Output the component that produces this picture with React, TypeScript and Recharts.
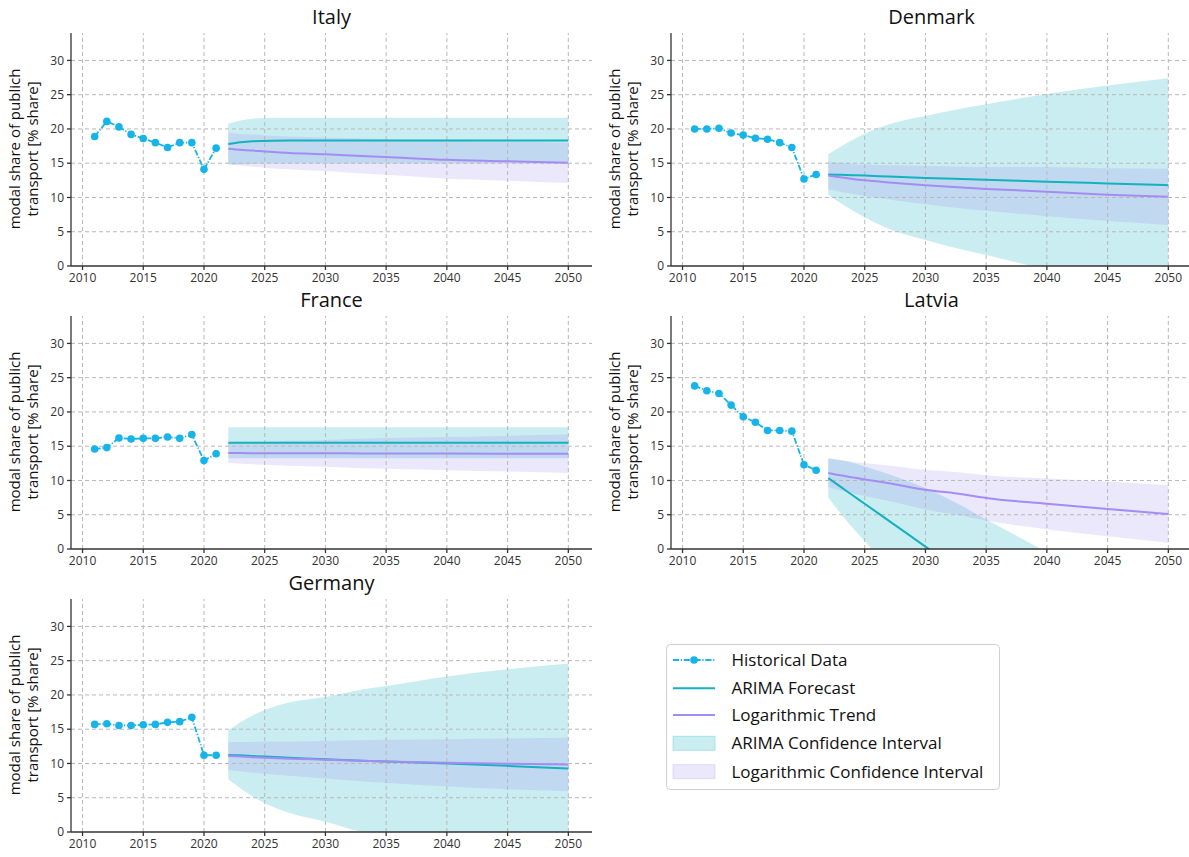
import React from "react";
import { Area, ComposedChart, Line, ReferenceLine, XAxis, YAxis } from "recharts";

const HIST_YEARS = [2011, 2012, 2013, 2014, 2015, 2016, 2017, 2018, 2019, 2020, 2021];
const FORECAST_YEARS = [2022, 2023, 2024, 2025, 2027, 2030, 2033, 2035, 2040, 2045, 2050];
const X_TICKS = [2010, 2015, 2020, 2025, 2030, 2035, 2040, 2045, 2050];
const Y_TICKS = [0, 5, 10, 15, 20, 25, 30];

const ITALY_HIST = [18.9, 21.1, 20.3, 19.2, 18.6, 18.0, 17.3, 18.0, 18.0, 14.1, 17.2];
const ITALY_ARIMA = [17.8, 18.05, 18.2, 18.25, 18.3, 18.3, 18.3, 18.3, 18.3, 18.3, 18.3];
const ITALY_ARIMA_LO = [14.8, 14.85, 14.9, 14.95, 14.95, 14.95, 14.95, 14.95, 14.95, 14.95, 14.95];
const ITALY_ARIMA_HI = [20.8, 21.25, 21.5, 21.6, 21.65, 21.65, 21.65, 21.65, 21.65, 21.65, 21.65];
const ITALY_LOG = [17.1, 16.95, 16.85, 16.7, 16.5, 16.3, 16.05, 15.9, 15.5, 15.3, 15.05];
const ITALY_LOG_LO = [14.8, 14.65, 14.5, 14.35, 14.1, 13.85, 13.5, 13.3, 12.75, 12.45, 12.1];
const ITALY_LOG_HI = [19.4, 19.25, 19.2, 19.05, 18.9, 18.75, 18.6, 18.5, 18.25, 18.15, 18.0];

const DENMARK_HIST = [20.0, 20.0, 20.1, 19.4, 19.1, 18.65, 18.5, 18.0, 17.3, 12.7, 13.35];
const DENMARK_ARIMA = [13.35, 13.3, 13.25, 13.2, 13.05, 12.85, 12.7, 12.6, 12.3, 12.05, 11.8];
const DENMARK_ARIMA_LO = [10.4, 9.2, 8.1, 7.1, 5.4, 3.8, 2.4, 1.6, -0.5, -2.25, -3.8];
const DENMARK_ARIMA_HI = [16.3, 17.4, 18.4, 19.3, 20.7, 21.9, 23.0, 23.6, 25.1, 26.35, 27.4];
const DENMARK_LOG = [13.2, 12.95, 12.7, 12.5, 12.2, 11.8, 11.45, 11.25, 10.85, 10.4, 10.1];
const DENMARK_LOG_LO = [11.2, 10.85, 10.5, 10.2, 9.7, 9.0, 8.4, 8.05, 7.25, 6.55, 6.0];
const DENMARK_LOG_HI = [15.2, 15.05, 14.9, 14.8, 14.7, 14.6, 14.5, 14.45, 14.45, 14.25, 14.2];

const FRANCE_HIST = [14.6, 14.8, 16.2, 16.05, 16.15, 16.15, 16.35, 16.15, 16.7, 12.9, 13.9];
const FRANCE_ARIMA = [15.5, 15.5, 15.5, 15.5, 15.5, 15.5, 15.5, 15.5, 15.5, 15.5, 15.5];
const FRANCE_ARIMA_LO = [13.25, 13.25, 13.25, 13.25, 13.25, 13.25, 13.25, 13.25, 13.25, 13.25, 13.25];
const FRANCE_ARIMA_HI = [17.75, 17.75, 17.75, 17.75, 17.75, 17.75, 17.75, 17.75, 17.75, 17.75, 17.75];
const FRANCE_LOG = [14.0, 14.0, 13.99, 13.98, 13.97, 13.96, 13.95, 13.94, 13.92, 13.91, 13.9];
const FRANCE_LOG_LO = [12.55, 12.45, 12.35, 12.3, 12.15, 12.0, 11.8, 11.7, 11.5, 11.3, 11.1];
const FRANCE_LOG_HI = [15.45, 15.55, 15.63, 15.66, 15.79, 15.92, 16.1, 16.18, 16.34, 16.52, 16.7];

const LATVIA_HIST = [23.8, 23.1, 22.7, 21.0, 19.3, 18.5, 17.3, 17.3, 17.2, 12.3, 11.5];
const LATVIA_ARIMA = [10.35, 9.1, 7.85, 6.6, 4.1, 0.35, -3.4, -5.9, -12.15, -18.4, -24.65];
const LATVIA_ARIMA_LO = [7.5, 5.2, 3.1, 1.15, -2.7, -8.2, -13.1, -16.1, -23.8, -30.6, -37.3];
const LATVIA_ARIMA_HI = [13.2, 13.0, 12.6, 12.05, 10.9, 8.9, 6.3, 4.3, -0.5, -6.2, -12.0];
const LATVIA_LOG = [11.1, 10.75, 10.45, 10.15, 9.6, 8.65, 8.0, 7.45, 6.6, 5.85, 5.1];
const LATVIA_LOG_LO = [9.0, 8.55, 8.15, 7.75, 7.0, 5.75, 4.85, 4.15, 2.9, 1.85, 0.9];
const LATVIA_LOG_HI = [13.2, 12.95, 12.75, 12.55, 12.2, 11.55, 11.15, 10.75, 10.3, 9.85, 9.3];

const GERMANY_HIST = [15.7, 15.8, 15.55, 15.55, 15.65, 15.7, 16.0, 16.1, 16.75, 11.2, 11.2];
const GERMANY_ARIMA = [11.25, 11.2, 11.1, 11.0, 10.85, 10.6, 10.4, 10.3, 10.0, 9.65, 9.25];
const GERMANY_ARIMA_LO = [7.7, 6.4, 5.2, 4.2, 2.8, 1.5, 0.0, -0.7, -2.7, -4.45, -6.1];
const GERMANY_ARIMA_HI = [14.8, 16.0, 17.0, 17.8, 18.9, 19.7, 20.8, 21.3, 22.7, 23.75, 24.6];
const GERMANY_LOG = [11.1, 11.0, 10.9, 10.85, 10.7, 10.55, 10.4, 10.3, 10.1, 9.95, 9.85];
const GERMANY_LOG_LO = [9.05, 8.85, 8.65, 8.5, 8.2, 7.8, 7.4, 7.15, 6.65, 6.25, 5.95];
const GERMANY_LOG_HI = [13.15, 13.15, 13.15, 13.2, 13.2, 13.3, 13.4, 13.45, 13.55, 13.65, 13.75];

const HIST_COLOR = "#16b4e9";
const ARIMA_COLOR = "#14b1bf";
const LOG_COLOR = "#a58cf4";
const ARIMA_FILL = "#40c0cc";
const LOG_FILL = "#9f8cf0";
const GRID_COLOR = "#b8b8b8";
const DASH_DOT = "6 1.8 1.2 1.8";

type Country = {
  name: string;
  hist: number[];
  arima: number[];
  arimaLo: number[];
  arimaHi: number[];
  log: number[];
  logLo: number[];
  logHi: number[];
};

const COUNTRIES: { country: Country; left: number; top: number }[] = [
  {
    country: { name: "Italy", hist: ITALY_HIST, arima: ITALY_ARIMA, arimaLo: ITALY_ARIMA_LO, arimaHi: ITALY_ARIMA_HI, log: ITALY_LOG, logLo: ITALY_LOG_LO, logHi: ITALY_LOG_HI },
    left: 0,
    top: 0,
  },
  {
    country: { name: "Denmark", hist: DENMARK_HIST, arima: DENMARK_ARIMA, arimaLo: DENMARK_ARIMA_LO, arimaHi: DENMARK_ARIMA_HI, log: DENMARK_LOG, logLo: DENMARK_LOG_LO, logHi: DENMARK_LOG_HI },
    left: 600,
    top: 0,
  },
  {
    country: { name: "France", hist: FRANCE_HIST, arima: FRANCE_ARIMA, arimaLo: FRANCE_ARIMA_LO, arimaHi: FRANCE_ARIMA_HI, log: FRANCE_LOG, logLo: FRANCE_LOG_LO, logHi: FRANCE_LOG_HI },
    left: 0,
    top: 283,
  },
  {
    country: { name: "Latvia", hist: LATVIA_HIST, arima: LATVIA_ARIMA, arimaLo: LATVIA_ARIMA_LO, arimaHi: LATVIA_ARIMA_HI, log: LATVIA_LOG, logLo: LATVIA_LOG_LO, logHi: LATVIA_LOG_HI },
    left: 600,
    top: 283,
  },
  {
    country: { name: "Germany", hist: GERMANY_HIST, arima: GERMANY_ARIMA, arimaLo: GERMANY_ARIMA_LO, arimaHi: GERMANY_ARIMA_HI, log: GERMANY_LOG, logLo: GERMANY_LOG_LO, logHi: GERMANY_LOG_HI },
    left: 0,
    top: 566,
  },
];

function buildRows(c: Country) {
  const rows: Record<string, unknown>[] = HIST_YEARS.map((year, i) => ({ year, hist: c.hist[i] }));
  FORECAST_YEARS.forEach((year, i) => {
    rows.push({
      year,
      arima: c.arima[i],
      arimaBand: [c.arimaLo[i], c.arimaHi[i]],
      log: c.log[i],
      logBand: [c.logLo[i], c.logHi[i]],
    });
  });
  return rows;
}

function Panel({ country, left, top }: { country: Country; left: number; top: number }) {
  const rows = buildRows(country);
  return (
    <div style={{ position: "absolute", left, top, width: 600, height: 296 }}>
      <ComposedChart width={600} height={296} data={rows} margin={{ top: 33, right: 8, bottom: 0, left: 21 }}>
        <XAxis
          type="number"
          dataKey="year"
          domain={[2009.05, 2051.95]}
          ticks={X_TICKS}
          allowDataOverflow
          height={30}
          tickSize={4}
          tickMargin={3}
          tick={{ fontSize: 12, fill: "#333" }}
          stroke="#333"
          strokeWidth={1.3}
        />
        <YAxis
          type="number"
          domain={[0, 34]}
          ticks={Y_TICKS}
          allowDataOverflow
          width={50}
          tickSize={4}
          tickMargin={3}
          tick={{ fontSize: 12, fill: "#333" }}
          stroke="#333"
          strokeWidth={1.3}
        />
        {X_TICKS.map((x) => (
          <ReferenceLine key={`gx${x}`} x={x} stroke={GRID_COLOR} strokeDasharray="4 3" />
        ))}
        {Y_TICKS.filter((y) => y > 0).map((y) => (
          <ReferenceLine key={`gy${y}`} y={y} stroke={GRID_COLOR} strokeDasharray="4 3" />
        ))}
        <Area type="monotone" dataKey="arimaBand" stroke="none" fill={ARIMA_FILL} fillOpacity={0.28} isAnimationActive={false} />
        <Area type="monotone" dataKey="logBand" stroke="none" fill={LOG_FILL} fillOpacity={0.2} isAnimationActive={false} />
        <Line
          type="linear"
          dataKey="hist"
          stroke={HIST_COLOR}
          strokeWidth={1.8}
          strokeDasharray={DASH_DOT}
          dot={{ r: 3.8, fill: HIST_COLOR, stroke: "none" }}
          isAnimationActive={false}
        />
        <Line type="monotone" dataKey="arima" stroke={ARIMA_COLOR} strokeWidth={2} dot={false} isAnimationActive={false} />
        <Line type="monotone" dataKey="log" stroke={LOG_COLOR} strokeWidth={2} dot={false} isAnimationActive={false} />
      </ComposedChart>
      <svg width={600} height={296} style={{ position: "absolute", left: 0, top: 0, pointerEvents: "none" }}>
        <text x={331.5} y={24} textAnchor="middle" fontSize={20} fill="#111">
          {country.name}
        </text>
        <text transform="translate(20,149) rotate(-90)" textAnchor="middle" fontSize={15} fill="#111">
          modal share of publich
        </text>
        <text transform="translate(37.5,149) rotate(-90)" textAnchor="middle" fontSize={15} fill="#111">
          transport [% share]
        </text>
      </svg>
    </div>
  );
}

function LegendBox() {
  const rowY = [20, 48.3, 75, 103.3, 131.7];
  return (
    <svg width={345} height={155} style={{ position: "absolute", left: 660, top: 640 }}>
      <rect x={6.5} y={4.5} width={333} height={145} rx={4} fill="#fff" stroke="#cfcfcf" />
      <line x1={13} x2={55} y1={rowY[0]} y2={rowY[0]} stroke={HIST_COLOR} strokeWidth={1.8} strokeDasharray={DASH_DOT} />
      <circle cx={34} cy={rowY[0]} r={3.8} fill={HIST_COLOR} />
      <line x1={13} x2={55} y1={rowY[1]} y2={rowY[1]} stroke={ARIMA_COLOR} strokeWidth={2} />
      <line x1={13} x2={55} y1={rowY[2]} y2={rowY[2]} stroke={LOG_COLOR} strokeWidth={2} />
      <rect x={13} y={rowY[3] - 7} width={42} height={14} fill={ARIMA_FILL} fillOpacity={0.28} stroke={ARIMA_FILL} strokeOpacity={0.35} />
      <rect x={13} y={rowY[4] - 7} width={42} height={14} fill={LOG_FILL} fillOpacity={0.2} stroke={LOG_FILL} strokeOpacity={0.25} />
      {["Historical Data", "ARIMA Forecast", "Logarithmic Trend", "ARIMA Confidence Interval", "Logarithmic Confidence Interval"].map((label, i) => (
        <text key={label} x={71.5} y={rowY[i] + 6} fontSize={17} fill="#111">
          {label}
        </text>
      ))}
    </svg>
  );
}

export default function App() {
  return (
    <div style={{ position: "relative", width: 1189, height: 857, overflow: "hidden", background: "#fff", fontFamily: "'Open Sans', sans-serif" }}>
      <style>{"body{margin:0;overflow:hidden}"}</style>
      {COUNTRIES.map((p) => (
        <Panel key={p.country.name} country={p.country} left={p.left} top={p.top} />
      ))}
      <LegendBox />
    </div>
  );
}
